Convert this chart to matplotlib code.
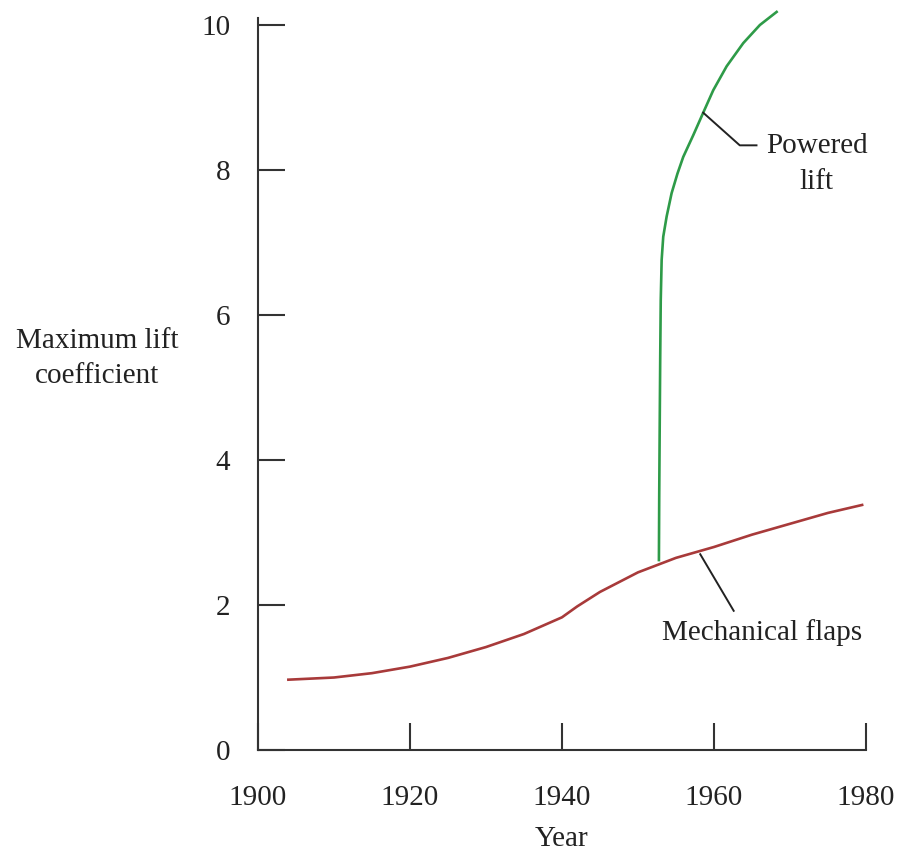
import matplotlib
matplotlib.use('Agg')
import matplotlib.pyplot as plt

# values
flaps_year = [1904, 1910, 1915, 1920, 1925, 1930, 1935, 1940, 1942, 1945, 1950,
              1955, 1960, 1965, 1970, 1975, 1979.5]
flaps_cl = [0.97, 1.0, 1.06, 1.15, 1.27, 1.42, 1.6, 1.83, 1.98, 2.18, 2.45,
            2.65, 2.8, 2.97, 3.12, 3.27, 3.38]

powered_year = [1952.76, 1952.8, 1952.86, 1952.93, 1953.0, 1953.12, 1953.33,
                1953.78, 1954.43, 1955.2, 1955.96, 1957.28, 1958.59, 1959.91,
                1961.67, 1963.86, 1966.05, 1968.25]
powered_cl = [2.62, 3.5, 4.4, 5.4, 6.2, 6.76, 7.08, 7.36, 7.68, 7.95, 8.18,
              8.48, 8.79, 9.1, 9.43, 9.75, 10.0, 10.18]

x_ticks = [1900, 1920, 1940, 1960, 1980]
y_ticks = [0, 2, 4, 6, 8, 10]

plt.rcParams['font.family'] = ['Liberation Serif', 'DejaVu Serif']

fig = plt.figure(figsize=(9.02, 8.52), dpi=100)
ax = fig.add_axes([0.286, 0.1197, 0.674, 0.8595])

ax.plot(flaps_year, flaps_cl, color='#A83A3A', lw=1.9, clip_on=False)
ax.plot(powered_year, powered_cl, color='#2E9B48', lw=1.9, clip_on=False)

ax.set_xlim(1900, 1980)
ax.set_ylim(0, 10.1)
ax.set_xticks(x_ticks)
ax.set_yticks(y_ticks)

for s in ['top', 'right']:
    ax.spines[s].set_visible(False)
for s in ['left', 'bottom']:
    ax.spines[s].set_color('#333333')
    ax.spines[s].set_linewidth(1.5)
ax.tick_params(direction='in', length=19.5, width=1.5, color='#333333',
               labelsize=21, labelcolor='#222222')
ax.tick_params(axis='x', pad=25)
ax.tick_params(axis='y', pad=20)

ax.set_xlabel('Year', fontsize=21, color='#222222', labelpad=11)
ax.text(-0.265, 0.535, 'Maximum lift\ncoefficient', transform=ax.transAxes,
        fontsize=21, color='#222222', ha='center', va='center', linespacing=1.45)

# leader lines and labels
ax.plot([1958.59, 1963.4, 1965.6], [8.79, 8.34, 8.34], color='#222222', lw=1.4)
ax.text(1973.5, 8.51, 'Powered\nlift', fontsize=21, color='#222222',
        ha='center', va='top', linespacing=1.5)
ax.plot([1958.2, 1962.6], [2.7, 1.92], color='#222222', lw=1.4)
ax.text(1966.3, 1.62, 'Mechanical flaps', fontsize=21, color='#222222',
        ha='center', va='center')

fig.savefig('out.png', dpi=100)
